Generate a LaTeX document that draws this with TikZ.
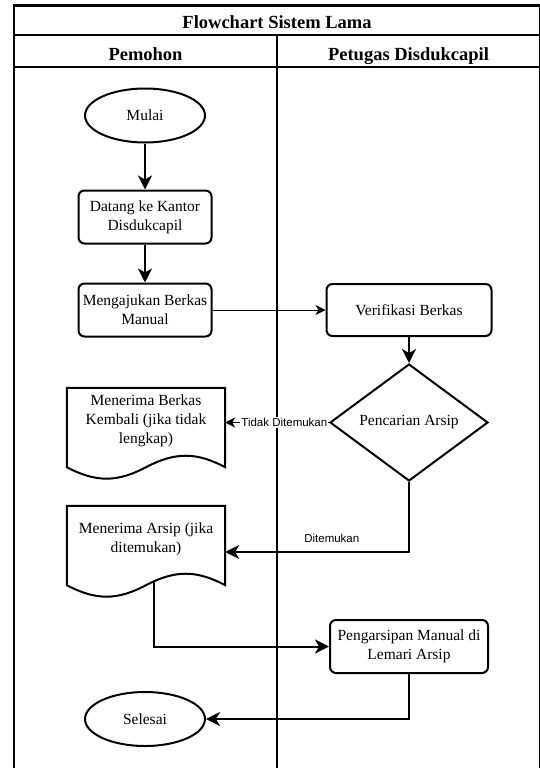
\documentclass[tikz,border=0pt]{standalone}
\usepackage{fontspec}
\setmainfont{Liberation Serif}
\setsansfont{Liberation Sans}
\usetikzlibrary{shapes.geometric}
\usetikzlibrary{positioning, arrows.meta, calc}

\begin{document}
\begin{tikzpicture}[x=1pt, y=-1pt,
			lane/.style={line width=2.5pt},
			proc/.style={rectangle, draw, rounded corners=6pt, line width=2pt, minimum width=133pt, minimum height=53pt, inner sep=2pt, align=center, font=\fontsize{15.5}{19}\selectfont},
			term/.style={ellipse, draw, line width=2pt, minimum width=120pt, minimum height=54pt, inner sep=0pt, font=\fontsize{15.5}{19}\selectfont},
			decision/.style={diamond, draw, line width=2pt, minimum width=158pt, minimum height=117pt, inner sep=0pt, font=\fontsize{15.5}{19}\selectfont},
			docu/.style={rectangle, minimum width=158pt, minimum height=66pt, inner sep=0pt, align=center, font=\fontsize{15.5}{19}\selectfont},
			head/.style={anchor=base, font=\bfseries\fontsize{18.5}{22}\selectfont},
			mylabel/.style={font=\sffamily\fontsize{11.5}{13}\selectfont, inner sep=1pt},
			flow/.style={line width=2pt, -{Stealth[length=14pt, width=14pt, inset=4pt]}},
			thinflow/.style={line width=1pt, -{Stealth[length=10pt, width=10pt, inset=3pt]}}
			]
			\useasboundingbox (0,0) rectangle (540,768);
			\draw[lane] (14,5.5) rectangle (540,790);
			\draw[lane] (14,35) -- (540,35);
			\draw[lane] (14,67) -- (540,67);
			\draw[lane] (277,35) -- (277,790);
			\node[head] (judul) at (277,29) {Flowchart Sistem Lama};
			\node[head] (pemohon) at (145.5,60) {Pemohon};
			\node[head] (petugas) at (408.5,60) {Petugas Disdukcapil};
			
			\node[term] (mulai) at (145,115.5) {Mulai};
			\node[proc, below=46pt of mulai] (datang) {Datang ke Kantor\\Disdukcapil};
			\node[proc, below=38pt of datang] (ajukan) {Mengajukan Berkas\\Manual};
			\node[proc, right=113pt of ajukan, minimum width=165pt, minimum height=52pt] (verif) {Verifikasi Berkas};
			\node[decision, below=26pt of verif] (cari) {Pencarian Arsip};
			\node[docu] (kembali) at (146,421) {Menerima Berkas\\Kembali (jika tidak\\lengkap)};
			\node[docu] (arsip) at (146,539) {Menerima Arsip (jika\\ditemukan)};
			\node[proc, minimum width=158pt] (simpan) at (409,646.5) {Pengarsipan Manual di\\Lemari Arsip};
			\node[term] (selesai) at (145,719) {Selesai};
			
			\foreach \d in {kembali, arsip}{
				\draw[line width=2pt] ($(\d.south west)+(0,13)$) -- (\d.north west) -- (\d.north east) -- ($(\d.south east)+(0,13)$)
				.. controls ($(\d.south east)+(-29,-2.3)$) and ($(\d.south east)+(-50,-2.3)$) .. ($(\d.south)+(0,13)$)
				.. controls ($(\d.south)+(-29,28.3)$) and ($(\d.south)+(-50,28.3)$) .. ($(\d.south west)+(0,13)$) -- cycle;
			}
			
			\draw[flow] (mulai) to (datang);
			\draw[flow] (datang) to (ajukan);
			\draw[thinflow] (ajukan) to (verif);
			\draw[flow] (verif) to (cari);
			\draw[thinflow] (cari.west) to node[mylabel, fill=white, pos=0.43]{Tidak Ditemukan} (cari.west -| kembali.east);
			\draw[flow] (cari.south) |- node[mylabel, above=7pt, pos=0.71]{Ditemukan} ($(arsip.east)+(0,13)$);
			\coordinate (keluar) at ($(arsip.south)+(8,10)$);
			\draw[flow] (keluar) |- (simpan.west);
			\draw[flow] (simpan.south) |- (selesai.east);
			\end{tikzpicture}
\end{document}
